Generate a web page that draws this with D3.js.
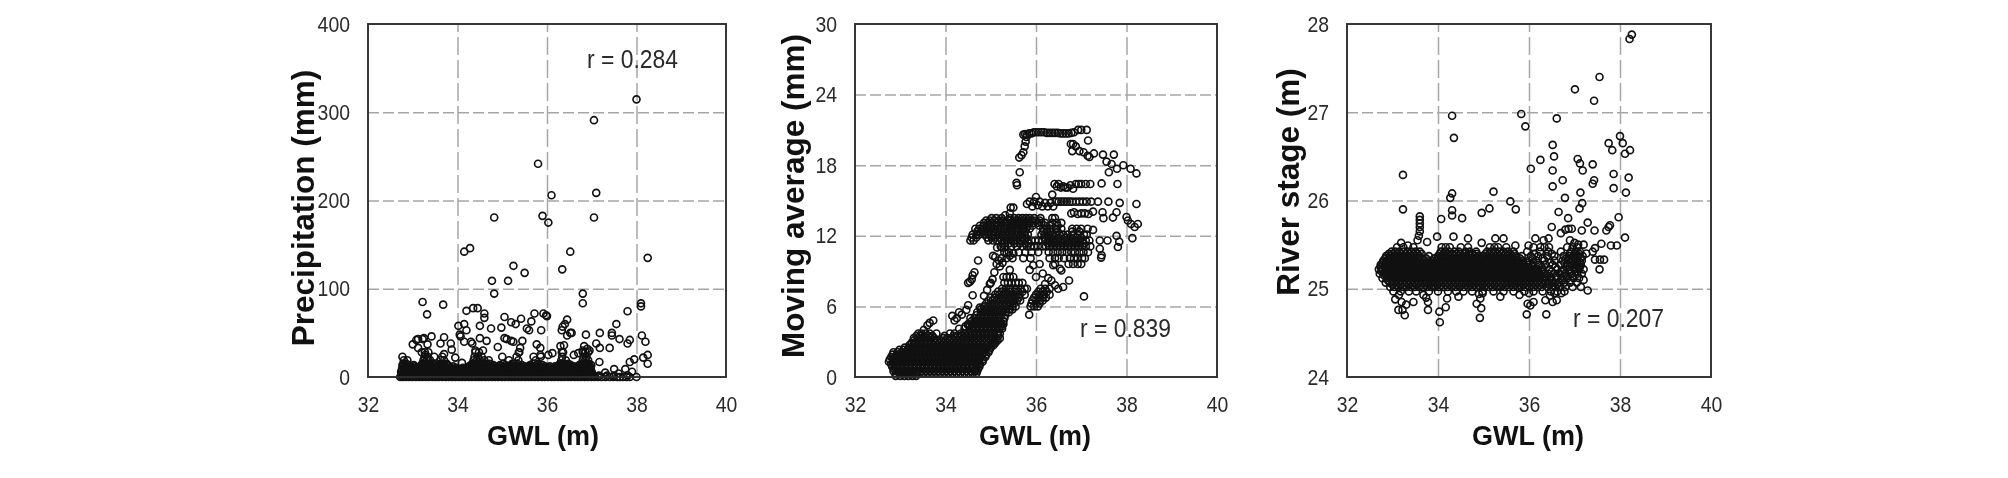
<!DOCTYPE html>
<html>
<head>
<meta charset="utf-8">
<script src="https://cdn.jsdelivr.net/npm/d3@7"></script>
<style>
    html, body { margin: 0; background: #fff; }
    svg { display: block; filter: blur(0.55px); }
    text { font-family: "Liberation Sans", Arial, sans-serif; fill: #2a2a2a; }
    .grid line { stroke: #a6a6a6; stroke-width: 1.5; }
    .grid-x line { stroke-dasharray: 18 5; }
    .grid-y line { stroke-dasharray: 11 4; }
    .grid path { display: none; }
    .labels path { display: none; }
    .frame { fill: none; stroke: #2e2e2e; stroke-width: 1.9; }
    .dot { fill: none; stroke: #111; stroke-width: 1.65; }
    .title { font-weight: bold; fill: #111; }
</style>
</head>
<body>
<svg></svg>
<script>
var gwlTicks = [32, 34, 36, 38, 40];
var precipTicks = [0, 100, 200, 300, 400];
var movingTicks = [0, 6, 12, 18, 24, 30];
var riverTicks = [24, 25, 26, 27, 28];

// Precipitation: scattered circles read one by one
var precipSparse = [
    [38.0,314.6],[37.05,291],[35.8,241.6],[36.1,206],[37.1,208.7],[34.82,180.7],[35.9,182.6],[36.03,175],[37.05,180.7],
    [34.15,142],[34.28,146],[36.52,142],[38.25,135],[35.25,126],[35.5,118],[36.34,122],[34.77,109],[35.13,109],[34.82,94.5],
    [36.8,94.5],[36.8,83.6],[33.22,85],[33.32,71],[33.68,82],[38.1,83.5],[38.1,80],[37.8,74.5],
    [33.0,37],[33.08,42],[33.12,43],[33.22,43],[33.25,44],[33.33,37],[33.12,33],[33.2,28],[33.28,25],[33.42,46],[33.62,38],[33.7,45],
    [33.85,38],[33.87,31],[33.7,26],[33.95,22],[34.1,16],[34.02,58],[34.15,60],[34.05,48],[34.07,46],[34.2,53],[34.15,40],[34.3,40],
    [34.33,38],[34.4,30],[34.2,75],[34.35,78],[34.45,78],[34.6,72],[34.6,67],[34.5,58],[34.5,44],[34.65,41],[34.57,30],[34.75,55],
    [35.05,68],[35.2,62],[35.3,60],[35.42,66],[34.98,56],[34.9,34],[35.05,44],[35.1,43],[35.2,41],[35.25,40],[35.45,41],[35.4,33],
    [35.37,28],[35.55,55],[35.6,53],[35.65,63],[35.72,72],[35.92,72],[35.98,70],[36.0,69],[35.87,53],[35.77,37],[35.85,33],[35.7,23],
    [35.85,25],[36.03,25],[36.12,27],[36.3,35],[36.38,36],[36.4,60],[36.35,57],[36.33,53],[36.45,65],[36.45,47],[36.52,50],[36.55,50],
    [36.33,28],[36.6,25],[36.7,27],[36.83,35],[36.87,48],[36.8,30],[36.9,32],[36.95,30],[37.1,38],[37.18,33],[37.18,50],[37.17,17],
    [37.4,33],[37.45,47],[37.45,50],[37.55,60],[37.62,43],[37.8,38],[37.85,42],[38.12,47],[38.2,40],[38.25,25],[38.15,22],[38.25,15],
    [37.95,20],[37.85,17],[37.5,9],[37.75,9],[37.9,6],[38.0,0],[37.8,2],[37.6,4],[37.3,5]
];
// Precipitation: the crowded strip along the bottom, one x list per y level
var precipRowY = [0, 3, 6, 9, 12, 15, 19, 23, 28];
var precipRowX = [
    [32.72,32.78,32.85,32.92,32.99,33.07,33.14,33.21,33.29,33.36,33.44,33.51,33.58,33.66,33.73,33.8,33.88,33.95,34.03,34.1,34.17,34.25,34.32,34.4,34.47,34.54,34.62,34.69,34.77,34.84,34.91,34.99,35.06,35.14,35.21,35.28,35.36,35.43,35.51,35.58,35.65,35.73,35.8,35.88,35.95,36.02,36.1,36.17,36.25,36.32,36.39,36.47,36.54,36.62,36.69,36.76,36.84,36.91,36.99,37.06,37.14,37.22,37.31,37.4,37.48,37.57,37.63,37.7,37.78,37.85],
    [32.75,32.82,32.89,32.96,33.03,33.1,33.18,33.25,33.32,33.4,33.47,33.55,33.62,33.69,33.77,33.84,33.92,33.99,34.06,34.14,34.21,34.29,34.36,34.43,34.51,34.58,34.66,34.73,34.8,34.88,34.95,35.03,35.1,35.17,35.25,35.32,35.4,35.47,35.54,35.62,35.69,35.77,35.84,35.91,35.99,36.06,36.14,36.21,36.28,36.36,36.43,36.51,36.58,36.65,36.73,36.8,36.88,36.95,37.02],
    [32.74,32.8,32.87,32.94,33.01,33.09,33.16,33.23,33.31,33.38,33.46,33.53,33.6,33.68,33.75,33.82,33.9,33.97,34.05,34.12,34.19,34.27,34.34,34.42,34.49,34.56,34.64,34.71,34.79,34.86,34.93,35.01,35.08,35.16,35.23,35.3,35.38,35.45,35.53,35.6,35.67,35.75,35.82,35.9,35.97,36.04,36.12,36.19,36.27,36.34,36.41,36.49,36.56,36.64,36.71,36.78,36.86,36.93,37.0],
    [32.76,32.83,32.9,32.98,33.05,33.13,33.2,33.27,33.35,33.42,33.5,33.57,33.64,33.72,33.79,33.86,33.93,34.0,34.08,34.16,34.24,34.31,34.38,34.46,34.53,34.6,34.68,34.75,34.82,34.9,34.97,35.05,35.12,35.2,35.27,35.35,35.42,35.49,35.56,35.64,35.71,35.8,35.86,35.93,36.0,36.08,36.15,36.22,36.3,36.38,36.45,36.53,36.6,36.66,36.74,36.82,36.9,36.97],
    [32.78,32.85,32.94,33.04,33.16,33.25,33.33,33.41,33.52,33.61,33.69,33.8,33.9,34.26,34.34,34.41,34.48,34.57,34.66,34.75,34.84,34.98,35.1,35.18,35.3,35.39,35.5,35.6,35.73,35.84,35.95,36.06,36.18,36.28,36.36,36.42,36.5,36.6,36.75,36.83,36.89,36.96],
    [32.79,32.86,33.21,33.29,33.37,33.46,33.6,33.68,33.76,34.33,34.4,34.47,34.55,34.64,34.72,35.02,35.22,35.34,35.68,35.8,36.3,36.39,36.48,36.77,36.85,36.93],
    [32.8,32.88,33.24,33.31,33.39,33.62,33.7,34.36,34.43,34.5,34.6,34.7,35.15,35.36,35.75,36.32,36.42,36.8,36.86,36.92],
    [32.77,33.26,33.34,33.48,33.66,34.38,34.46,34.54,35.0,35.32,35.86,36.34,36.82,36.88],
    [33.27,33.35,34.4,34.48,35.38,36.36,36.8,36.86,36.92]
];
// Precipitation: in-between levels that close the strip up to solid black
var precipFillY = [1.5, 4.5, 7.5, 10.5, 13.5];
var precipFillX = [
    [32.74,32.83,32.93,33.03,33.12,33.22,33.31,33.41,33.5,33.6,33.69,33.79,33.88,33.98,34.07,34.17,34.26,34.36,34.45,34.55,34.64,34.74,34.83,34.93,35.02,35.12,35.21,35.31,35.4,35.5,35.59,35.69,35.78,35.88,35.97,36.07,36.16,36.26,36.35,36.45,36.54,36.64,36.73,36.83,36.92,37.04,37.16,37.34,37.5],
    [32.78,32.87,32.97,33.07,33.16,33.26,33.35,33.45,33.54,33.64,33.73,33.83,33.92,34.02,34.11,34.21,34.3,34.4,34.49,34.59,34.68,34.78,34.87,34.97,35.06,35.16,35.25,35.35,35.44,35.54,35.63,35.73,35.82,35.92,36.01,36.11,36.2,36.3,36.39,36.49,36.58,36.68,36.77,36.87,36.98],
    [32.76,32.85,32.95,33.05,33.14,33.24,33.33,33.43,33.52,33.62,33.71,33.81,33.9,34.0,34.09,34.19,34.28,34.38,34.47,34.57,34.66,34.76,34.85,34.95,35.04,35.14,35.23,35.33,35.42,35.52,35.61,35.71,35.8,35.9,35.99,36.09,36.18,36.28,36.37,36.47,36.56,36.66,36.75,36.85,36.95],
    [32.8,32.89,33.0,33.09,33.18,33.28,33.37,33.47,33.56,33.66,33.75,33.85,33.97,34.12,34.23,34.32,34.42,34.51,34.61,34.7,34.8,34.89,34.99,35.08,35.18,35.27,35.37,35.46,35.56,35.65,35.75,35.84,35.94,36.03,36.13,36.22,36.32,36.41,36.51,36.6,36.7,36.79,36.89,36.98],
    [32.77,32.86,33.02,33.2,33.3,33.39,33.49,33.58,33.68,33.77,34.3,34.39,34.5,34.6,34.69,34.8,34.95,35.07,35.2,35.32,35.44,35.62,35.78,35.9,36.26,36.34,36.44,36.53,36.72,36.82,36.91,36.99]
];

// Moving average: scattered circles and the flat runs at the top
var movingSparse = [
    [35.57,16.5],[35.58,16.3],[35.64,17.4],[35.63,18.65],[35.68,18.85],[35.72,19.1],[35.75,19.6],[35.77,20],[35.79,20.4],
    [35.72,20.6],[35.76,20.65],[35.8,20.6],[35.85,20.7],[35.9,20.7],[35.95,20.8],[36.0,20.8],[36.06,20.8],[36.12,20.8],[36.18,20.8],[36.24,20.75],[36.3,20.75],[36.36,20.75],[36.42,20.75],[36.48,20.75],[36.54,20.7],[36.6,20.7],[36.66,20.7],[36.72,20.7],[36.78,20.75],[36.84,20.8],[36.93,21],[37.0,21],[37.12,21],
    [37.15,20.1],[36.77,19.8],[36.82,19.8],[36.88,19.6],[36.8,19.2],[36.96,19.2],[37.05,19.1],[37.14,18.8],[37.18,18.7],[37.28,19],[37.48,18.9],[37.72,18.9],[37.56,18.3],[37.67,18.1],[37.79,17.7],[37.61,17.4],[37.93,18],[38.09,17.7],[38.22,17.3],
    [36.41,16.4],[36.46,16.2],[36.5,16.4],[36.55,16.1],[36.6,16.2],[36.65,16.1],[36.7,16.1],[36.76,16.3],[36.82,16],[36.88,16.4],[36.94,16.4],[37.0,16.4],[37.1,16.4],[37.2,16.4],[37.45,16.45],[37.8,16.4],[36.36,15.5],
    [35.8,14.7],[35.86,14.9],[35.92,14.5],[35.96,14.9],[36.0,15.3],[36.04,14.6],[36.08,14.9],[36.14,14.5],[36.2,14.8],[36.26,14.5],[36.32,14.8],[36.38,14.5],[36.44,14.9],[36.5,14.9],[36.56,14.9],[36.62,14.9],[36.68,14.9],[36.74,14.9],[36.8,14.9],[36.88,14.9],[36.96,14.9],[37.04,14.9],[37.12,14.9],[37.22,14.9],[37.37,14.9],[37.6,14.9],[37.85,14.8],[38.22,14.7],
    [35.5,14.4],[35.44,14.4],[35.42,13.9],[35.32,13.75],[36.78,13.9],[36.84,14],[36.92,13.85],[37.0,13.9],[37.08,13.9],[37.16,13.85],[37.26,14.05],[37.47,14],[37.49,13.5],[37.7,13.55],[37.78,14],
    [38,13.6],[38.03,13.3],[38.1,13],[38.18,12.75],[38.25,13],[38.13,11.8],[37.78,12],[37.84,11.5],[37.81,11.05],[37.58,11.6],[37.41,11.6],[37.26,12.5],[37.41,10.9],[37.45,10.35],[37.44,10.15],
    [37.06,6.85],[35.85,5.3],[36.73,8.2],[36.6,7.65],[36.49,7.5],[36.34,8.2],[36.27,8.4],[36.53,9.2],[36.56,9.05],[36.38,9.5],[36.08,9.6],[35.94,9.5],[35.86,9.1],[36.0,8.5],[36.15,8.8],[35.42,9.1],[36.42,7.8],[36.2,7.9],
    [34.54,8.1],[34.6,8.65],[34.72,9.9],[34.5,8],[34.58,8.3],[34.64,8.9],[34.6,6.95],[34.5,6.1],[34.76,5.9],[34.15,5.2],[34.3,5.5],[34.36,5.3],[34.2,4.8],[34.25,5],[34.46,5.7],[33.73,4.8],[33.6,4.4],[33.65,4.6],[34.5,4.4],[33.52,4.0],
    [34.85,6.9],[34.92,7.4],[34.98,7.9],[35.04,8.3],[35.0,8.0],[35.08,8.9],[35.13,9.6],[35.18,9.9],[35.1,10.2],[35.24,10.1],[35.35,10.5],[35.42,10.3],[35.5,10.5],[35.2,9.4],[35.26,9.7],[35.05,10.3],[35.14,11],[35.25,11]
];
// Moving average: the crowded band, one x list per y level
var movingRowY = [0.1, 0.5, 0.9, 1.3, 1.7, 2.1, 2.5, 2.9, 3.3, 3.7, 4.1, 4.5, 5, 5.5, 6, 6.5, 7, 7.5, 8, 8.5];
var movingRowX = [
    [32.9,33.0,33.09,33.18,33.27,33.35],
    [32.85,32.94,33.03,33.12,33.21,33.3,33.39,33.48,33.57,33.66,33.75,33.84,33.93,34.02,34.11,34.2,34.29,34.38,34.47,34.56,34.65,34.7],
    [32.82,32.9,32.99,33.08,33.17,33.26,33.35,33.44,33.53,33.62,33.71,33.8,33.89,33.98,34.07,34.16,34.25,34.34,34.43,34.52,34.61,34.68,34.75],
    [32.75,32.85,32.94,33.03,33.12,33.21,33.3,33.39,33.48,33.57,33.66,33.75,33.84,33.93,34.02,34.11,34.2,34.29,34.38,34.47,34.56,34.65,34.74,34.82],
    [32.8,32.89,32.98,33.07,33.16,33.25,33.34,33.43,33.52,33.61,33.7,33.79,33.88,33.97,34.06,34.15,34.24,34.33,34.42,34.51,34.6,34.69,34.78,34.88],
    [32.85,32.94,33.03,33.12,33.21,33.3,33.39,33.48,33.57,33.66,33.75,33.84,33.93,34.02,34.11,34.2,34.29,34.38,34.47,34.56,34.65,34.74,34.83,34.95],
    [33.1,33.19,33.28,33.37,33.46,33.55,33.64,33.73,33.82,33.91,34.0,34.09,34.18,34.27,34.36,34.45,34.54,34.63,34.72,34.81,34.9,35.0],
    [33.25,33.33,33.42,33.51,33.6,33.69,33.78,33.87,33.96,34.05,34.14,34.23,34.32,34.41,34.5,34.59,34.68,34.77,34.86,34.95,35.04,35.1],
    [33.3,33.39,33.48,33.57,33.66,33.75,33.95,34.04,34.13,34.22,34.31,34.4,34.49,34.58,34.67,34.76,34.85,34.94,35.03,35.12,35.2],
    [33.4,33.47,33.56,33.65,33.8,34.1,34.2,34.34,34.43,34.52,34.61,34.7,34.79,34.88,34.97,35.06,35.15,35.2],
    [34.3,34.42,34.56,34.65,34.74,34.83,34.92,35.01,35.1,35.19,35.25],
    [34.5,34.6,34.69,34.78,34.87,34.96,35.05,35.14,35.23,35.28],
    [34.55,34.64,34.73,34.82,34.91,35.0,35.09,35.18,35.3],
    [34.7,34.79,34.88,34.97,35.06,35.15,35.24,35.33,35.4],
    [34.85,34.94,35.03,35.12,35.21,35.3,35.39,35.48,35.55,35.88,35.96,36.04],
    [34.95,35.04,35.13,35.22,35.31,35.4,35.49,35.58,35.65,35.92,36.0,36.08,36.15],
    [35.1,35.19,35.28,35.37,35.46,35.55,35.64,35.75,36.0,36.09,36.18,36.3],
    [35.25,35.34,35.43,35.55,35.66,35.75,35.8,36.1,36.2,36.3],
    [35.3,35.38,35.46,35.55,35.62,35.7],
    [35.28,35.35,35.42,35.5]
];
// Moving average: in-between levels that close the band up to solid black
var movingFillY = [0.3, 0.7, 1.1, 1.5, 1.9, 2.3, 2.7, 3.1, 3.5, 4.3, 4.75, 5.25, 5.75, 6.25, 6.75, 7.25];
var movingFillX = [
    [32.9,32.98,33.07,33.16,33.25,33.34,33.43,33.52,33.61,33.7,33.79,33.88,33.97,34.06,34.15,34.24,34.33,34.42,34.51,34.6,34.68],
    [32.86,32.95,33.04,33.13,33.22,33.31,33.4,33.49,33.58,33.67,33.76,33.85,33.94,34.03,34.12,34.21,34.3,34.39,34.48,34.57,34.66,34.72],
    [32.8,32.87,32.96,33.05,33.14,33.23,33.32,33.41,33.5,33.59,33.68,33.77,33.86,33.95,34.04,34.13,34.22,34.31,34.4,34.49,34.58,34.67,34.76],
    [32.77,32.84,32.93,33.02,33.11,33.2,33.29,33.38,33.47,33.56,33.65,33.74,33.83,33.92,34.01,34.1,34.19,34.28,34.37,34.46,34.55,34.64,34.73,34.83],
    [32.83,32.92,33.01,33.1,33.19,33.28,33.37,33.46,33.55,33.64,33.73,33.82,33.91,34.0,34.09,34.18,34.27,34.36,34.45,34.54,34.63,34.72,34.81,34.9],
    [32.98,33.07,33.16,33.25,33.34,33.43,33.52,33.61,33.7,33.79,33.88,33.97,34.06,34.15,34.24,34.33,34.42,34.51,34.6,34.69,34.78,34.87,34.97],
    [33.2,33.29,33.38,33.47,33.56,33.65,33.74,33.83,33.92,34.01,34.1,34.19,34.28,34.37,34.46,34.55,34.64,34.73,34.82,34.91,35.0,35.06],
    [33.3,33.38,33.47,33.56,33.65,33.74,33.83,33.92,34.01,34.1,34.19,34.28,34.37,34.46,34.55,34.64,34.73,34.82,34.91,35.0,35.09,35.15],
    [33.36,33.44,33.53,33.62,33.71,33.98,34.18,34.27,34.36,34.45,34.54,34.63,34.72,34.81,34.9,34.99,35.08,35.17],
    [34.44,34.53,34.62,34.71,34.8,34.89,34.98,35.07,35.16,35.25],
    [34.58,34.66,34.75,34.84,34.93,35.02,35.11,35.2,35.28],
    [34.68,34.77,34.86,34.95,35.04,35.13,35.22,35.32],
    [34.78,34.87,34.96,35.05,35.14,35.23,35.32,35.42,35.48],
    [34.9,34.99,35.08,35.17,35.26,35.35,35.44,35.52,35.9,36.0,36.08],
    [35.0,35.09,35.18,35.27,35.36,35.45,35.54,35.62,35.96,36.05,36.14,36.22],
    [35.16,35.25,35.34,35.43,35.52,35.6,35.7,36.05,36.14,36.24]
];
// Moving average: the upper cloud around 10 to 13.5 mm
var movingCloudY = [9.6, 10.1, 10.6, 11.1, 11.35, 11.6, 11.85, 12.1, 12.35, 12.6, 12.85, 13.1, 13.3, 13.5];
var movingCloudX = [
    [36.42,36.72,36.82,36.92,37.0],
    [35.35,35.48,35.72,35.88,36.3,36.42,36.5,36.62,36.75,36.84,36.92,37.02,37.08],
    [35.3,35.4,35.62,35.76,35.9,36.05,36.28,36.38,36.48,36.58,36.68,36.78,36.86,36.96,37.05,37.15],
    [35.22,35.32,35.45,35.58,35.7,35.8,35.88,35.96,36.04,36.14,36.22,36.3,36.38,36.46,36.54,36.62,36.7,36.78,36.86,36.94,37.02,37.1,37.2],
    [35.3,35.4,35.52,35.64,35.76,35.84,36.26,36.34,36.42,36.5,36.58,36.66,36.74,36.82,36.9,36.98,37.06],
    [34.55,34.62,34.95,35.05,35.14,35.24,35.35,35.46,35.56,35.66,35.74,35.82,35.9,35.98,36.06,36.14,36.22,36.3,36.38,36.46,36.54,36.62,36.7,36.78,36.86,36.94,37.02,37.1,37.18],
    [34.58,34.68,34.92,35.02,35.1,35.2,35.3,35.4,35.5,35.6,35.7,35.78,36.18,36.26,36.34,36.5,36.66,36.76,36.9,37.0],
    [34.6,34.68,34.74,34.86,34.96,35.06,35.16,35.26,35.36,35.46,35.56,35.66,35.74,35.82,36.12,36.2,36.28,36.36,36.44,36.52,36.6,36.7,36.82,36.92,37.06,37.12],
    [34.7,34.78,34.86,34.94,35.02,35.1,35.18,35.28,35.38,35.48,35.58,35.68,35.76,36.16,36.24,36.32,36.48,36.8,36.96],
    [34.66,34.74,34.82,34.9,34.98,35.06,35.14,35.22,35.3,35.38,35.46,35.54,35.62,35.7,35.78,35.86,36.16,36.24,36.32,36.44,36.56,36.8,36.9,37.0,37.14],
    [34.76,34.84,34.92,35.0,35.08,35.16,35.24,35.34,35.42,35.5,35.58,35.66,35.74,35.82,35.92,36.08,36.2,36.3,36.48],
    [34.85,34.94,35.02,35.12,35.22,35.3,35.38,35.46,35.54,35.62,35.7,35.78,35.86,35.94,36.04,36.12,36.2,36.36,36.46,36.56],
    [34.9,34.98,35.08,35.18,35.28,35.44,35.52,35.6,35.68,35.76,35.84,35.92,36.0,36.08],
    [35.02,35.12,35.24,35.42,35.52,35.62,35.7,35.78,35.86,35.96,36.1,36.36,36.42]
];

// River stage: scattered circles around the band
var riverSparse = [
    [38.26,27.88],[38.21,27.83],[37.55,27.4],[37.01,27.26],[37.43,27.13],[34.31,26.96],[35.83,26.98],[35.92,26.84],[36.61,26.93],[34.35,26.71],
    [38.0,26.73],[37.75,26.65],[38.06,26.65],[37.83,26.57],[38.22,26.57],[38.11,26.53],[36.52,26.63],[36.55,26.5],[36.25,26.46],[36.04,26.36],
    [36.52,26.34],[37.07,26.47],[37.12,26.42],[37.18,26.34],[37.4,26.41],[37.86,26.3],[38.19,26.26],[33.23,26.29],[36.74,26.23],[36.52,26.16],
    [37.43,26.23],[37.4,26.19],[37.86,26.14],[38.13,26.09],[37.13,26.09],[35.22,26.1],[34.31,26.08],[34.27,26.03],[35.59,25.99],[35.71,25.9],
    [35.13,25.91],[34.96,25.86],[36.79,26.03],[37.17,25.97],[37.11,25.91],[33.23,25.9],[34.31,25.89],[34.31,25.83],[34.53,25.8],[34.07,25.79],
    [36.65,25.87],[36.86,25.8],[37.97,25.81],[37.29,25.75],[36.5,25.7],[37.78,25.72],[37.75,25.7],[37.7,25.66],[37.44,25.66],[37.16,25.66],
    [36.94,25.68],[36.87,25.68],[36.8,25.67],[36.7,25.63],[38.11,25.58],[37.59,25.51],[37.8,25.49],[37.93,25.49],[37.45,25.46],[37.4,25.42],
    [37.26,25.4],[37.45,25.33],[37.56,25.33],[37.65,25.33],[37.55,25.22],[37.2,25.1],[37.14,25.02],[37.29,24.98],[37.12,25.25],
    [34.34,25.59],[33.98,25.59],[34.66,25.57],[35.26,25.57],[35.44,25.57],[33.76,25.53],[33.19,25.52],[33.34,25.49],[34.96,25.52],[35.7,25.49],
    [35.99,25.49],[36.14,25.57],[36.32,25.55],[36.43,25.57],[36.25,25.47],[36.9,25.55],[37.0,25.52],[37.08,25.5],[37.2,25.5],
    [33.6,25.82],[33.6,25.78],[33.6,25.74],[33.6,25.7],[33.6,25.65],[33.58,25.6],[33.55,25.55],
    [33.27,24.7],[33.13,24.76],[33.22,24.76],[33.06,24.88],[33.46,24.85],[33.78,24.85],[33.78,24.76],[34.03,24.74],[34.04,24.62],[34.17,24.79],
    [34.2,24.89],[34.45,24.91],[34.92,24.67],[34.95,24.78],[34.85,24.83],[34.93,24.89],[35.37,24.91],[35.79,24.93],[35.95,24.71],[35.97,24.83],
    [36.1,24.85],[36.03,24.81],[36.38,24.71],[36.36,24.87],[36.52,24.85],[36.61,24.87],[36.71,24.95],[33.2,24.85],[33.3,24.82],[33.14,24.93],
    [33.68,24.93],[33.74,24.9],[34.9,24.94],[34.98,24.95],[36.0,24.95],[36.46,24.92],[36.56,24.95]
];
// River stage: the crowded band, one x list per y level
var riverRowY = [24.97, 25.02, 25.07, 25.12, 25.17, 25.22, 25.27, 25.32, 25.37, 25.42, 25.47];
var riverRowX = [
    [33.02,33.18,33.36,33.52,33.8,34.0,34.22,34.4,34.56,34.75,34.98,35.22,35.44,35.66,35.9,36.1,36.3,36.48,36.62,36.78],
    [32.95,33.04,33.13,33.22,33.31,33.4,33.49,33.58,33.67,33.76,33.85,33.94,34.03,34.12,34.21,34.3,34.39,34.48,34.57,34.66,34.75,34.84,34.93,35.02,35.11,35.2,35.29,35.38,35.47,35.56,35.65,35.74,35.83,35.92,36.01,36.1,36.19,36.28,36.4,36.5,36.58,36.68,36.8,36.96],
    [32.85,32.94,33.03,33.12,33.21,33.3,33.39,33.48,33.57,33.66,33.75,33.84,33.93,34.02,34.11,34.2,34.29,34.38,34.47,34.56,34.65,34.74,34.83,34.92,35.01,35.1,35.19,35.28,35.37,35.46,35.55,35.64,35.73,35.82,35.91,36.0,36.09,36.18,36.27,36.36,36.45,36.54,36.66,36.78,36.9,37.05],
    [32.78,32.88,32.97,33.06,33.15,33.24,33.33,33.42,33.51,33.6,33.69,33.78,33.87,33.96,34.05,34.14,34.23,34.32,34.41,34.5,34.59,34.68,34.77,34.86,34.95,35.04,35.13,35.22,35.31,35.4,35.49,35.58,35.67,35.76,35.85,35.94,36.03,36.12,36.21,36.3,36.39,36.48,36.6,36.72,36.84,36.98,37.1],
    [32.72,32.82,32.91,33.0,33.09,33.18,33.27,33.36,33.45,33.54,33.63,33.72,33.81,33.9,33.99,34.08,34.17,34.26,34.35,34.44,34.53,34.62,34.71,34.8,34.89,34.98,35.07,35.16,35.25,35.34,35.43,35.52,35.61,35.7,35.79,35.88,35.97,36.06,36.15,36.24,36.33,36.42,36.54,36.68,36.8,36.92,37.06,37.16],
    [32.7,32.78,32.87,32.96,33.05,33.14,33.23,33.32,33.41,33.5,33.59,33.68,33.77,33.86,33.95,34.04,34.13,34.22,34.31,34.4,34.49,34.58,34.67,34.76,34.85,34.94,35.03,35.12,35.21,35.3,35.39,35.48,35.57,35.66,35.75,35.84,35.93,36.02,36.11,36.2,36.3,36.45,36.62,36.76,36.88,37.0,37.1,37.2],
    [32.74,32.83,32.92,33.01,33.1,33.19,33.28,33.37,33.46,33.55,33.64,33.73,33.82,33.91,34.0,34.09,34.18,34.27,34.36,34.45,34.54,34.63,34.72,34.81,34.9,34.99,35.08,35.17,35.26,35.35,35.44,35.53,35.62,35.71,35.8,35.89,35.98,36.08,36.2,36.36,36.52,36.7,36.84,36.94,37.04,37.14],
    [32.8,32.88,32.97,33.06,33.15,33.24,33.33,33.42,33.51,33.6,33.69,33.78,33.87,33.96,34.05,34.14,34.23,34.32,34.41,34.5,34.59,34.68,34.77,34.86,34.95,35.04,35.13,35.22,35.31,35.4,35.49,35.58,35.67,35.76,35.86,36.0,36.16,36.34,36.56,36.74,36.86,36.96,37.06,37.16],
    [32.86,32.95,33.04,33.13,33.22,33.31,33.4,33.49,33.58,33.8,34.0,34.09,34.18,34.27,34.36,34.45,34.54,34.63,34.72,34.81,34.9,34.99,35.08,35.17,35.26,35.35,35.44,35.53,35.62,35.72,35.84,36.04,36.2,36.4,36.56,36.76,36.88,36.98,37.08,37.18],
    [32.98,33.06,33.15,33.24,33.33,33.42,33.51,33.6,34.06,34.15,34.24,34.36,34.46,34.6,34.7,34.84,35.08,35.17,35.26,35.35,35.44,35.54,35.66,35.96,36.24,36.42,36.7,36.92,37.02,37.12],
    [33.1,33.24,33.46,34.08,34.17,34.26,34.5,34.66,35.14,35.24,35.32,35.5,36.1,36.34,36.44,36.84,36.96,37.06]
];
// River stage: in-between levels that close the band up to solid black
var riverFillY = [25.045, 25.095, 25.145, 25.195, 25.245, 25.295, 25.345, 25.395];
var riverFillX = [
    [33.0,33.09,33.18,33.27,33.36,33.45,33.54,33.63,33.72,33.81,33.9,33.99,34.08,34.17,34.26,34.35,34.44,34.53,34.62,34.71,34.8,34.89,34.98,35.07,35.16,35.25,35.34,35.43,35.52,35.61,35.7,35.79,35.88,35.97,36.06,36.15,36.24,36.44,36.62],
    [32.9,32.99,33.08,33.17,33.26,33.35,33.44,33.53,33.62,33.71,33.8,33.89,33.98,34.07,34.16,34.25,34.34,34.43,34.52,34.61,34.7,34.79,34.88,34.97,35.06,35.15,35.24,35.33,35.42,35.51,35.6,35.69,35.78,35.87,35.96,36.05,36.14,36.23,36.32,36.5,36.72,36.92],
    [32.83,32.92,33.01,33.1,33.19,33.28,33.37,33.46,33.55,33.64,33.73,33.82,33.91,34.0,34.09,34.18,34.27,34.36,34.45,34.54,34.63,34.72,34.81,34.9,34.99,35.08,35.17,35.26,35.35,35.44,35.53,35.62,35.71,35.8,35.89,35.98,36.07,36.16,36.25,36.34,36.58,36.76,36.96],
    [32.76,32.86,32.95,33.04,33.13,33.22,33.31,33.4,33.49,33.58,33.67,33.76,33.85,33.94,34.03,34.12,34.21,34.3,34.39,34.48,34.57,34.66,34.75,34.84,34.93,35.02,35.11,35.2,35.29,35.38,35.47,35.56,35.65,35.74,35.83,35.92,36.01,36.1,36.19,36.28,36.5,36.72,36.9,37.02],
    [32.74,32.84,32.93,33.02,33.11,33.2,33.29,33.38,33.47,33.56,33.65,33.74,33.83,33.92,34.01,34.1,34.19,34.28,34.37,34.46,34.55,34.64,34.73,34.82,34.91,35.0,35.09,35.18,35.27,35.36,35.45,35.54,35.63,35.72,35.81,35.9,35.99,36.1,36.28,36.58,36.82,36.98,37.08],
    [32.78,32.87,32.96,33.05,33.14,33.23,33.32,33.41,33.5,33.59,33.68,33.77,33.86,33.95,34.04,34.13,34.22,34.31,34.4,34.49,34.58,34.67,34.76,34.85,34.94,35.03,35.12,35.21,35.3,35.39,35.48,35.57,35.66,35.75,35.84,35.94,36.1,36.46,36.78,36.92,37.02,37.12],
    [32.84,32.93,33.02,33.11,33.2,33.29,33.38,33.47,33.56,33.65,33.74,33.92,34.02,34.11,34.2,34.29,34.38,34.47,34.56,34.65,34.74,34.83,34.92,35.01,35.1,35.19,35.28,35.37,35.46,35.55,35.64,35.73,35.8,36.08,36.3,36.82,36.94,37.04,37.14],
    [32.92,33.01,33.1,33.19,33.28,33.37,33.46,33.55,33.64,34.04,34.13,34.22,34.31,34.4,34.49,34.58,34.67,34.76,34.85,35.04,35.13,35.22,35.31,35.4,35.49,35.58,35.68,36.12,36.5,36.9,37.0,37.1]
];

var width = 2008,
    height = 478,
    plotTop = 24,
    plotBottom = 377;

var panels = [
    {
        left: 368, right: 726, domain: [0, 400], ticks: precipTicks, title: "Precipitation (mm)",
        titleX: 314, titleY: 208, gwlX: 543, note: "r = 0.284", noteX: 587, noteY: 68,
        points: precipSparse.concat(fromRows(precipRowY, precipRowX), fromRows(precipFillY, precipFillX))
    },
    {
        left: 855, right: 1217, domain: [0, 30], ticks: movingTicks, title: "Moving average (mm)",
        titleX: 804, titleY: 196, gwlX: 1035, note: "r = 0.839", noteX: 1080, noteY: 337,
        points: movingSparse.concat(fromRows(movingRowY, movingRowX), fromRows(movingFillY, movingFillX), fromRows(movingCloudY, movingCloudX))
    },
    {
        left: 1347, right: 1711, domain: [24, 28], ticks: riverTicks, title: "River stage (m)",
        titleX: 1299, titleY: 182, gwlX: 1528, note: "r = 0.207", noteX: 1573, noteY: 327,
        points: riverSparse.concat(fromRows(riverRowY, riverRowX), fromRows(riverFillY, riverFillX))
    }
];

function fromRows(ys, xs) {
    var out = [];
    ys.forEach(function(y, i) {
        xs[i].forEach(function(x) {
            out.push([x, y]);
        });
    });
    return out;
}

const svg = d3.select("svg")
    .attr("width", width)
    .attr("height", height);

svg.append("rect")
    .attr("width", width)
    .attr("height", height)
    .attr("fill", "#fff");

panels.forEach(function(p) {
    var x = d3.scaleLinear().domain([32, 40]).range([p.left, p.right]);
    var y = d3.scaleLinear().domain(p.domain).range([plotBottom, plotTop]);

    // Dashed grid, inner ticks only
    svg.append("g")
        .attr("class", "grid grid-x")
        .attr("transform", "translate(0," + plotBottom + ")")
        .call(d3.axisBottom(x).tickValues(gwlTicks.slice(1, -1)).tickSize(plotTop - plotBottom).tickFormat(""));

    svg.append("g")
        .attr("class", "grid grid-y")
        .attr("transform", "translate(" + p.left + ",0)")
        .call(d3.axisLeft(y).tickValues(p.ticks.slice(1, -1)).tickSize(p.left - p.right).tickFormat(""));

    svg.append("g")
        .selectAll("circle")
        .data(p.points)
        .enter().append("circle")
        .attr("class", "dot")
        .attr("cx", function(d) { return x(d[0]); })
        .attr("cy", function(d) { return y(d[1]); })
        .attr("r", 3.5);

    svg.append("rect")
        .attr("class", "frame")
        .attr("x", p.left)
        .attr("y", plotTop)
        .attr("width", p.right - p.left)
        .attr("height", plotBottom - plotTop);

    var xLabels = svg.append("g")
        .attr("class", "labels")
        .attr("transform", "translate(0," + plotBottom + ")")
        .call(d3.axisBottom(x).tickValues(gwlTicks).tickSize(0).tickPadding(19).tickFormat(d3.format("d")));

    var yLabels = svg.append("g")
        .attr("class", "labels")
        .attr("transform", "translate(" + p.left + ",0)")
        .call(d3.axisLeft(y).tickValues(p.ticks).tickSize(0).tickPadding(18).tickFormat(d3.format("d")));

    [xLabels, yLabels].forEach(function(g) {
        g.attr("font-family", null).attr("font-size", null);
        g.selectAll("text")
            .style("font-size", "22px")
            .attr("lengthAdjust", "spacingAndGlyphs")
            .attr("textLength", function(d) { return String(d).length * 10.8; });
    });

    svg.append("text")
        .attr("class", "title")
        .attr("x", p.gwlX)
        .attr("y", 445)
        .attr("text-anchor", "middle")
        .style("font-size", "27px")
        .text("GWL (m)");

    svg.append("text")
        .attr("class", "title")
        .attr("transform", "translate(" + p.titleX + "," + p.titleY + ") rotate(-90)")
        .attr("text-anchor", "middle")
        .style("font-size", "31.5px")
        .text(p.title);

    svg.append("text")
        .attr("x", p.noteX)
        .attr("y", p.noteY)
        .attr("lengthAdjust", "spacingAndGlyphs")
        .attr("textLength", 91)
        .style("font-size", "26px")
        .text(p.note);
});
</script>
</body>
</html>
